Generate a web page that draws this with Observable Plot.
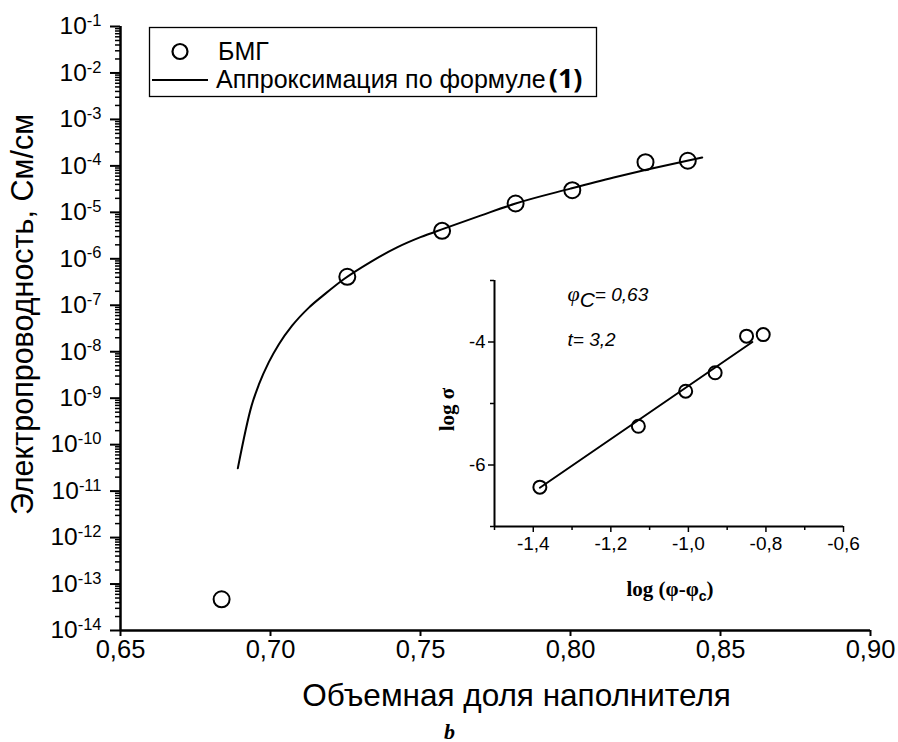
<!DOCTYPE html>
<html>
<head>
<meta charset="utf-8">
<script src="https://cdn.jsdelivr.net/npm/d3@7"></script>
<script src="https://cdn.jsdelivr.net/npm/@observablehq/plot@0.6"></script>
<style>
  html, body { margin: 0; padding: 0; background: #fff; }
  #wrap { position: relative; width: 898px; height: 742px; overflow: hidden; background: #fff; }
  #wrap > svg { position: absolute; }
</style>
</head>
<body>
<div id="wrap"></div>
<script>
// ---------- Main chart data ----------
const phi = [0.6837, 0.7256, 0.7572, 0.7817, 0.8006, 0.8250, 0.8391];
const sigma = [4.7e-14, 4.1e-7, 4.0e-6, 1.55e-5, 3.0e-5, 1.2e-4, 1.29e-4];

// approximation curve
const fitPhi = [0.6891, 0.6937, 0.6961, 0.6994, 0.7028, 0.7072, 0.7128, 0.7183, 0.7244, 0.7333,
                0.7422, 0.7500, 0.7578, 0.7700, 0.7817, 0.8000, 0.8144, 0.8256, 0.8389, 0.8439];
const fitSigma = [3.09e-11, 6.92e-10, 1.95e-9, 5.89e-9, 1.45e-8, 3.63e-8, 8.91e-8, 1.78e-7, 3.63e-7, 8.51e-7,
                  1.76e-6, 2.92e-6, 4.47e-6, 8.51e-6, 1.55e-5, 3.24e-5, 5.62e-5, 8.32e-5, 1.29e-4, 1.51e-4];

const yExponents = [-1, -2, -3, -4, -5, -6, -7, -8, -9, -10, -11, -12, -13, -14];
const xTicks = [0.65, 0.70, 0.75, 0.80, 0.85, 0.90];

// ---------- Inset data ----------
const insetLogPhi = [-1.383, -1.129, -1.007, -0.931, -0.850, -0.807];
const insetLogSigma = [-6.36, -5.37, -4.80, -4.50, -3.905, -3.88];
const insetFitX = [-1.383, -0.835];
const insetFitY = [-6.37, -4.00];
const insetXTicks = [-1.4, -1.2, -1.0, -0.8, -0.6];
const insetXMinor = [-1.5, -1.3, -1.1, -0.9, -0.7];
const insetYTicks = [-6, -4];
const insetYMinor = [-7, -5, -3];

// ---------- text ----------
const yTitle = "Электропроводность, См/см";
const xTitle = "Объемная доля наполнителя";
const legendDots = "БМГ";
const legendLine = "Аппроксимация по формуле";
const legendRef = "(1)";
const panelLabel = "b";
const insetYTitle = "log σ";
const insetXTitle = "log (φ-φ)";
const insetNote1 = "φC= 0,63";
const insetNote2 = "t= 3,2";

const SANS = "Liberation Sans, Arial, sans-serif";
const SERIF = "Liberation Serif, Times New Roman, serif";

const yTicks = yExponents.map(e => Math.pow(10, e));
const yMinor = [];
for (let e = -14; e <= -2; e++) for (let m = 2; m <= 9; m++) yMinor.push(m * Math.pow(10, e));

const fitIdx = fitPhi.map((_, i) => i);
const ptIdx = phi.map((_, i) => i);

const main = Plot.plot({
  width: 898,
  height: 742,
  marginLeft: 120,
  marginTop: 26,
  marginRight: 28,
  marginBottom: 112,
  style: { fontFamily: SANS, background: "transparent", color: "#000", overflow: "visible" },
  x: { domain: [0.65, 0.90], label: null },
  y: { type: "log", domain: [1e-14, 1e-1], label: null },
  marks: [
    Plot.axisY(yMinor, { tickSize: 5, strokeWidth: 1.5, tickFormat: () => "", label: null }),
    Plot.axisY(yTicks, { tickSize: 10, strokeWidth: 2, tickPadding: 9, fontSize: 24.5,
      tickFormat: d => String(Math.round(Math.log10(d))), label: null }),
    Plot.axisX(xTicks, { tickSize: 6, strokeWidth: 2, tickPadding: 3, fontSize: 25.5,
      tickFormat: d => d.toFixed(2).replace(".", ","), label: null }),
    Plot.ruleX([0.65], { strokeWidth: 2.5 }),
    Plot.ruleY([1e-14], { strokeWidth: 2.5 }),
    Plot.line(fitIdx, { x: i => fitPhi[i], y: i => fitSigma[i], stroke: "#000", strokeWidth: 2, curve: "monotone-x" }),
    Plot.dot(ptIdx, { x: i => phi[i], y: i => sigma[i], r: 8, stroke: "#000", strokeWidth: 2, fill: "none" }),
    Plot.text([yTitle], { frameAnchor: "left", rotate: -90, dx: -97, dy: -14, fontSize: 30.5,
      lineAnchor: "middle", textAnchor: "middle", fill: "#000" }),
    Plot.text([xTitle], { frameAnchor: "bottom", dx: 21, dy: 75, fontSize: 31.5,
      lineAnchor: "bottom", textAnchor: "middle", fill: "#000" }),
    Plot.text([panelLabel], { frameAnchor: "bottom", dx: -46, dy: 108, fontSize: 22,
      fontFamily: SERIF, fontWeight: "bold", fontStyle: "italic", lineAnchor: "bottom", fill: "#000" })
  ]
});
main.style.left = "0px";
main.style.top = "0px";

// superscript exponents for the log tick labels
d3.select(main).selectAll('g[aria-label="y-axis tick label"] text').each(function () {
  const t = this.textContent;
  if (!t) return;
  const s = d3.select(this);
  s.text("10");
  s.append("tspan").attr("dy", "-0.5em").attr("font-size", 16.5).text(t);
});

const insIdx = insetLogPhi.map((_, i) => i);
const inset = Plot.plot({
  width: 470,
  height: 360,
  marginLeft: 94,
  marginTop: 20,
  marginRight: 27,
  marginBottom: 94,
  style: { fontFamily: SANS, background: "transparent", color: "#000", overflow: "visible" },
  x: { domain: [-1.5, -0.6], label: null },
  y: { domain: [-7, -3], label: null },
  marks: [
    Plot.axisX(insetXMinor, { tickSize: 4, strokeWidth: 1.5, tickFormat: () => "", label: null }),
    Plot.axisX(insetXTicks, { tickSize: 6, strokeWidth: 1.5, tickPadding: 4, fontSize: 19,
      tickFormat: d => d.toFixed(1).replace(".", ","), label: null }),
    Plot.axisY(insetYMinor, { tickSize: 4, strokeWidth: 1.5, tickFormat: () => "", label: null }),
    Plot.axisY(insetYTicks, { tickSize: 6, strokeWidth: 1.5, tickPadding: 3, fontSize: 18.5,
      tickFormat: d => String(d), label: null }),
    Plot.ruleX([-1.5], { strokeWidth: 2 }),
    Plot.ruleY([-7], { strokeWidth: 2 }),
    Plot.line([0, 1], { x: i => insetFitX[i], y: i => insetFitY[i], stroke: "#000", strokeWidth: 2 }),
    Plot.dot(insIdx, { x: i => insetLogPhi[i], y: i => insetLogSigma[i], r: 6.5, stroke: "#000", strokeWidth: 2, fill: "none" }),
    Plot.text([insetYTitle], { frameAnchor: "left", rotate: -90, dx: -47, dy: 6, fontSize: 21,
      fontFamily: SERIF, fontWeight: "bold", lineAnchor: "middle", textAnchor: "middle", fill: "#000" }),
    Plot.text([insetXTitle], { frameAnchor: "bottom", dx: 1, dy: 69, fontSize: 21,
      fontFamily: SERIF, fontWeight: "bold", lineAnchor: "bottom", textAnchor: "middle", fill: "#000" }),
    Plot.text([insetNote1], { frameAnchor: "top-left", dx: 73, dy: 20, fontSize: 19,
      fontStyle: "italic", lineAnchor: "bottom", textAnchor: "start", fill: "#000" }),
    Plot.text([insetNote2], { frameAnchor: "top-left", dx: 73, dy: 65, fontSize: 19,
      fontStyle: "italic", lineAnchor: "bottom", textAnchor: "start", fill: "#000" })
  ]
});
inset.style.left = "400px";
inset.style.top = "260px";

d3.select(inset).selectAll("text").each(function () {
  const t = this.textContent;
  if (t === insetXTitle) {
    this.innerHTML = 'log (φ-φ<tspan font-family="' + SANS + '" font-size="14" dy="5">c</tspan><tspan dy="-5">)</tspan>';
  } else if (t === insetNote1) {
    this.innerHTML = '<tspan font-family="' + SERIF + '" font-size="22">φ</tspan><tspan font-size="21" dy="6">C</tspan><tspan dy="-6">= 0,63</tspan>';
  }
});

// ---------- Legend ----------
const leg = d3.create("svg").attr("width", 470).attr("height", 85)
  .style("left", "140px").style("top", "20px").style("position", "absolute")
  .attr("font-family", SANS);
leg.append("rect").attr("x", 9.5).attr("y", 7.5).attr("width", 447).attr("height", 69)
  .attr("fill", "#fff").attr("stroke", "#000").attr("stroke-width", 1.3);
leg.append("circle").attr("cx", 40).attr("cy", 31.5).attr("r", 7.5)
  .attr("fill", "none").attr("stroke", "#000").attr("stroke-width", 2.2);
leg.append("text").attr("x", 78).attr("y", 40).attr("font-size", 25).text(legendDots);
leg.append("line").attr("x1", 12).attr("x2", 68).attr("y1", 60).attr("y2", 60)
  .attr("stroke", "#000").attr("stroke-width", 1.8);
const lt = leg.append("text").attr("x", 76).attr("y", 68).attr("font-size", 25).text(legendLine);
lt.append("tspan").attr("dx", 3).attr("font-family", "Open Sans, Noto Sans, sans-serif")
  .attr("font-weight", "bold").attr("font-size", 27).text(legendRef);

const wrap = document.getElementById("wrap");
wrap.appendChild(main);
wrap.appendChild(inset);
wrap.appendChild(leg.node());
</script>
</body>
</html>
